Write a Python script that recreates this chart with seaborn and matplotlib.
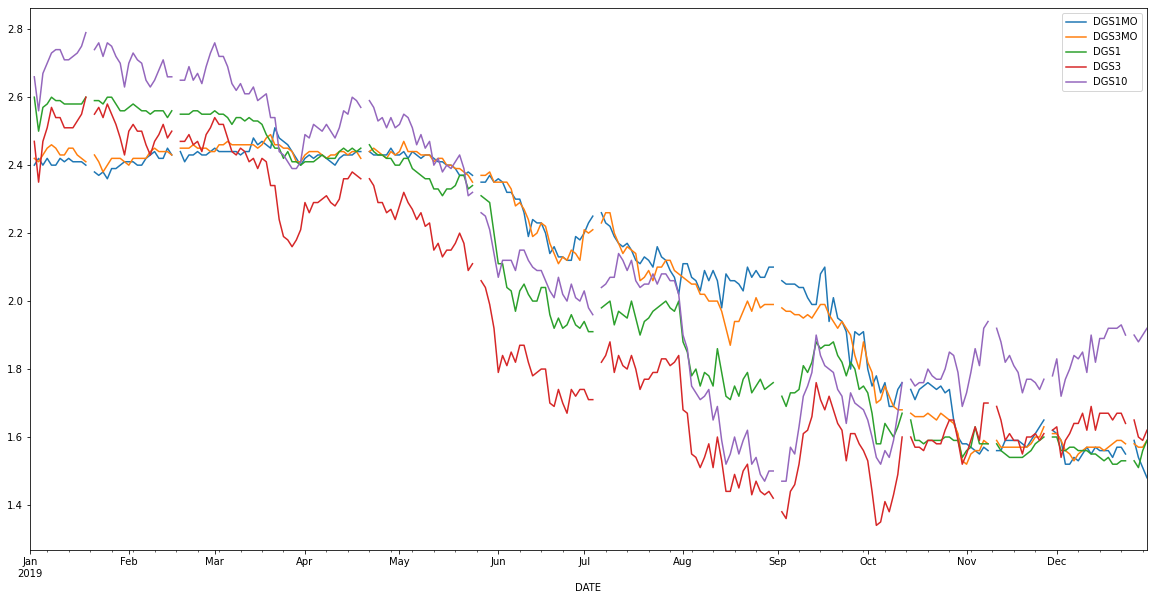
import numpy as np
import pandas as pd
import matplotlib
matplotlib.use("Agg")
import matplotlib.pyplot as plt
import seaborn as sns

nan = np.nan

# business days of 2019, holidays kept as missing values
dates = pd.bdate_range("2019-01-01", "2019-12-31", name="DATE")

dgs1mo = [
    nan, 2.40, 2.42, 2.40, 2.42, 2.40, 2.40, 2.42, 2.41, 2.42, 2.41, 2.41, 2.41, 2.40, nan, 2.38, 2.37, 2.38, 2.36, 2.39, 2.39, 2.40, 2.41,
    2.41, 2.41, 2.40, 2.40, 2.42, 2.43, 2.44, 2.42, 2.42, 2.45, 2.43, nan, 2.44, 2.41, 2.43, 2.43, 2.44, 2.43, 2.43, 2.44,
    2.45, 2.44, 2.44, 2.44, 2.44, 2.44, 2.43, 2.44, 2.44, 2.48, 2.46, 2.47, 2.46, 2.45, 2.51, 2.48, 2.47, 2.46, 2.44, 2.42, 2.40,
    2.42, 2.43, 2.42, 2.43, 2.43, 2.42, 2.41, 2.40, 2.42, 2.43, 2.43, 2.43, 2.44, 2.44, nan, 2.44, 2.43, 2.43, 2.43, 2.43, 2.45, 2.43,
    2.43, 2.44, 2.42, 2.44, 2.43, 2.42, 2.43, 2.43, 2.42, 2.41, 2.41, 2.40, 2.40, 2.39, 2.37, 2.37, 2.38, 2.37, nan, 2.35, 2.35, 2.37, 2.35,
    2.36, 2.35, 2.32, 2.32, 2.30, 2.30, 2.26, 2.19, 2.24, 2.23, 2.23, 2.20, 2.14, 2.16, 2.13, 2.13, 2.12, 2.12, 2.19, 2.18,
    2.20, 2.23, 2.25, nan, 2.26, 2.23, 2.22, 2.19, 2.17, 2.16, 2.17, 2.15, 2.12, 2.11, 2.13, 2.12, 2.10, 2.16, 2.13, 2.12, 2.09, 2.07, 2.02,
    2.11, 2.11, 2.07, 2.06, 2.03, 2.09, 2.06, 2.09, 2.06, 1.98, 2.08, 2.06, 2.06, 2.05, 2.03, 2.10, 2.07, 2.09, 2.07, 2.07, 2.10, 2.10,
    nan, 2.06, 2.05, 2.05, 2.05, 2.04, 2.04, 2.01, 1.99, 1.99, 2.08, 2.10, 1.94, 2.01, 1.95, 1.94, 1.91, 1.80, 1.91, 1.90, 1.91,
    1.80, 1.75, 1.78, 1.73, 1.76, 1.69, 1.69, 1.74, 1.76, nan, 1.74, 1.71, 1.74, 1.75, 1.76, 1.75, 1.74, 1.75, 1.73, 1.74, 1.65, 1.60, 1.58,
    1.58, 1.57, 1.56, 1.55, 1.57, 1.56, nan, 1.56, 1.56, 1.59, 1.59, 1.59, 1.59, 1.58, 1.57, 1.59, 1.61, 1.63, 1.65, nan, 1.62,
    1.61, 1.59, 1.52, 1.52, 1.54, 1.53, 1.55, 1.57, 1.55, 1.57, 1.56, 1.56, 1.56, 1.54, 1.57, 1.57, 1.55, nan, 1.59, 1.54, 1.51, 1.48,
]

dgs3mo = [
    nan, 2.42, 2.41, 2.43, 2.45, 2.46, 2.45, 2.43, 2.43, 2.45, 2.45, 2.43, 2.42, 2.41, nan, 2.43, 2.41, 2.38, 2.40, 2.42, 2.42, 2.42, 2.41,
    2.40, 2.42, 2.42, 2.42, 2.42, 2.44, 2.45, 2.44, 2.44, 2.44, 2.43, nan, 2.45, 2.45, 2.45, 2.46, 2.45, 2.45, 2.45, 2.44,
    2.44, 2.46, 2.46, 2.47, 2.46, 2.46, 2.46, 2.46, 2.46, 2.46, 2.45, 2.46, 2.48, 2.49, 2.46, 2.46, 2.45, 2.45, 2.44, 2.41, 2.41,
    2.43, 2.44, 2.44, 2.44, 2.43, 2.42, 2.43, 2.43, 2.44, 2.44, 2.43, 2.44, 2.44, 2.42, nan, 2.44, 2.45, 2.44, 2.43, 2.42, 2.44, 2.43,
    2.44, 2.47, 2.44, 2.44, 2.44, 2.43, 2.43, 2.43, 2.41, 2.42, 2.42, 2.40, 2.40, 2.39, 2.39, 2.38, 2.37, 2.35, nan, 2.37, 2.37, 2.38, 2.35,
    2.35, 2.35, 2.35, 2.33, 2.28, 2.29, 2.27, 2.24, 2.19, 2.20, 2.23, 2.22, 2.17, 2.14, 2.11, 2.13, 2.12, 2.15, 2.14, 2.12,
    2.21, 2.20, 2.21, nan, 2.23, 2.26, 2.26, 2.20, 2.17, 2.14, 2.16, 2.15, 2.14, 2.06, 2.07, 2.09, 2.06, 2.10, 2.10, 2.12, 2.12, 2.09, 2.08,
    2.07, 2.06, 2.05, 2.05, 2.02, 2.02, 2.00, 2.00, 2.00, 1.97, 1.92, 1.87, 1.94, 1.94, 1.97, 2.00, 1.97, 2.01, 1.98, 1.99, 1.99, 1.99,
    nan, 1.98, 1.97, 1.97, 1.96, 1.96, 1.95, 1.96, 1.95, 1.97, 1.99, 1.99, 1.96, 1.94, 1.92, 1.94, 1.92, 1.90, 1.84, 1.80, 1.88,
    1.82, 1.79, 1.70, 1.71, 1.75, 1.72, 1.69, 1.68, 1.68, nan, 1.67, 1.66, 1.66, 1.66, 1.67, 1.66, 1.65, 1.67, 1.66, 1.65, 1.64, 1.61, 1.53,
    1.52, 1.55, 1.56, 1.56, 1.59, 1.58, nan, 1.59, 1.57, 1.57, 1.57, 1.57, 1.57, 1.57, 1.57, 1.58, 1.60, 1.60, 1.63, nan, 1.61,
    1.61, 1.59, 1.56, 1.55, 1.53, 1.55, 1.56, 1.57, 1.57, 1.57, 1.57, 1.56, 1.57, 1.58, 1.59, 1.59, 1.58, nan, 1.58, 1.57, 1.57, 1.59,
]

dgs1 = [
    nan, 2.60, 2.50, 2.57, 2.58, 2.60, 2.59, 2.59, 2.58, 2.58, 2.58, 2.58, 2.58, 2.60, nan, 2.59, 2.59, 2.58, 2.60, 2.60, 2.58, 2.56, 2.56,
    2.57, 2.58, 2.57, 2.56, 2.56, 2.55, 2.56, 2.56, 2.56, 2.54, 2.56, nan, 2.55, 2.55, 2.55, 2.56, 2.56, 2.55, 2.55, 2.55,
    2.56, 2.55, 2.55, 2.54, 2.52, 2.54, 2.54, 2.53, 2.54, 2.53, 2.53, 2.52, 2.49, 2.47, 2.45, 2.45, 2.42, 2.44, 2.41, 2.41, 2.40,
    2.41, 2.41, 2.41, 2.42, 2.43, 2.42, 2.42, 2.42, 2.44, 2.45, 2.44, 2.45, 2.44, 2.45, nan, 2.46, 2.44, 2.43, 2.43, 2.42, 2.42, 2.40,
    2.40, 2.42, 2.42, 2.39, 2.38, 2.37, 2.36, 2.36, 2.33, 2.33, 2.31, 2.33, 2.33, 2.34, 2.37, 2.37, 2.33, 2.34, nan, 2.31, 2.30, 2.29, 2.20,
    2.11, 2.11, 2.04, 2.03, 1.97, 2.03, 2.05, 2.02, 2.00, 2.00, 2.04, 2.04, 1.96, 1.92, 1.95, 1.92, 1.93, 1.96, 1.93, 1.92,
    1.94, 1.91, 1.91, nan, 1.98, 1.99, 2.00, 1.93, 1.97, 1.96, 1.95, 2.00, 1.95, 1.90, 1.94, 1.95, 1.97, 1.98, 1.99, 2.00, 1.98, 1.97, 2.00,
    1.88, 1.85, 1.78, 1.80, 1.75, 1.79, 1.78, 1.75, 1.86, 1.79, 1.72, 1.71, 1.75, 1.72, 1.77, 1.79, 1.73, 1.75, 1.77, 1.74, 1.75, 1.76,
    nan, 1.72, 1.69, 1.73, 1.73, 1.74, 1.81, 1.79, 1.82, 1.88, 1.86, 1.87, 1.87, 1.88, 1.84, 1.82, 1.78, 1.82, 1.80, 1.74, 1.75,
    1.73, 1.67, 1.58, 1.58, 1.64, 1.62, 1.60, 1.63, 1.67, nan, 1.65, 1.59, 1.59, 1.58, 1.59, 1.59, 1.59, 1.59, 1.60, 1.60, 1.59, 1.59, 1.54,
    1.56, 1.57, 1.63, 1.58, 1.58, 1.58, nan, 1.58, 1.56, 1.55, 1.54, 1.54, 1.54, 1.54, 1.55, 1.56, 1.58, 1.59, 1.60, nan, 1.60,
    1.60, 1.56, 1.56, 1.57, 1.57, 1.56, 1.56, 1.56, 1.55, 1.55, 1.54, 1.53, 1.54, 1.52, 1.52, 1.53, 1.53, nan, 1.53, 1.51, 1.56, 1.59,
]

dgs3 = [
    nan, 2.47, 2.35, 2.47, 2.51, 2.57, 2.54, 2.54, 2.51, 2.51, 2.51, 2.53, 2.55, 2.60, nan, 2.55, 2.57, 2.54, 2.58, 2.55, 2.52, 2.48, 2.43,
    2.50, 2.52, 2.50, 2.50, 2.46, 2.43, 2.47, 2.49, 2.52, 2.48, 2.50, nan, 2.47, 2.47, 2.49, 2.46, 2.47, 2.44, 2.49, 2.51,
    2.54, 2.52, 2.52, 2.48, 2.44, 2.43, 2.45, 2.44, 2.41, 2.42, 2.39, 2.42, 2.41, 2.34, 2.34, 2.24, 2.19, 2.18, 2.16, 2.18, 2.21,
    2.29, 2.26, 2.29, 2.29, 2.30, 2.31, 2.29, 2.28, 2.30, 2.36, 2.36, 2.38, 2.37, 2.36, nan, 2.36, 2.34, 2.29, 2.29, 2.26, 2.27, 2.24,
    2.28, 2.32, 2.29, 2.27, 2.24, 2.26, 2.22, 2.23, 2.15, 2.17, 2.13, 2.15, 2.15, 2.17, 2.20, 2.17, 2.09, 2.11, nan, 2.06, 2.04, 1.99, 1.92,
    1.79, 1.84, 1.81, 1.85, 1.82, 1.87, 1.87, 1.82, 1.78, 1.79, 1.80, 1.80, 1.70, 1.69, 1.74, 1.70, 1.67, 1.74, 1.72, 1.74,
    1.74, 1.71, 1.71, nan, 1.82, 1.84, 1.88, 1.79, 1.84, 1.81, 1.80, 1.84, 1.80, 1.74, 1.77, 1.77, 1.79, 1.79, 1.83, 1.83, 1.81, 1.82, 1.84,
    1.68, 1.67, 1.55, 1.54, 1.51, 1.54, 1.58, 1.51, 1.60, 1.53, 1.44, 1.44, 1.49, 1.45, 1.50, 1.52, 1.43, 1.47, 1.44, 1.43, 1.44, 1.42,
    nan, 1.38, 1.36, 1.44, 1.46, 1.52, 1.61, 1.62, 1.66, 1.76, 1.71, 1.68, 1.72, 1.68, 1.64, 1.62, 1.53, 1.61, 1.61, 1.58, 1.56,
    1.53, 1.44, 1.34, 1.35, 1.41, 1.38, 1.43, 1.49, 1.60, nan, 1.60, 1.57, 1.57, 1.56, 1.59, 1.59, 1.58, 1.58, 1.62, 1.65, 1.65, 1.59, 1.52,
    1.55, 1.59, 1.63, 1.59, 1.70, 1.70, nan, 1.69, 1.65, 1.59, 1.61, 1.59, 1.59, 1.55, 1.60, 1.60, 1.61, 1.59, 1.61, nan, 1.62,
    1.63, 1.54, 1.59, 1.61, 1.64, 1.64, 1.67, 1.62, 1.69, 1.62, 1.67, 1.67, 1.67, 1.65, 1.67, 1.67, 1.64, nan, 1.65, 1.60, 1.59, 1.62,
]

dgs10 = [
    nan, 2.66, 2.56, 2.67, 2.70, 2.73, 2.74, 2.74, 2.71, 2.71, 2.72, 2.73, 2.75, 2.79, nan, 2.74, 2.76, 2.72, 2.76, 2.75, 2.72, 2.70, 2.63,
    2.70, 2.73, 2.71, 2.70, 2.65, 2.63, 2.65, 2.68, 2.71, 2.66, 2.66, nan, 2.65, 2.65, 2.69, 2.65, 2.67, 2.64, 2.69, 2.73,
    2.76, 2.72, 2.72, 2.69, 2.64, 2.62, 2.64, 2.61, 2.61, 2.63, 2.59, 2.60, 2.61, 2.54, 2.54, 2.44, 2.43, 2.41, 2.39, 2.39, 2.41,
    2.49, 2.48, 2.52, 2.51, 2.50, 2.52, 2.50, 2.48, 2.51, 2.56, 2.55, 2.60, 2.59, 2.57, nan, 2.59, 2.57, 2.53, 2.54, 2.51, 2.54, 2.51,
    2.52, 2.55, 2.54, 2.51, 2.46, 2.49, 2.45, 2.47, 2.40, 2.42, 2.38, 2.40, 2.39, 2.41, 2.43, 2.39, 2.31, 2.32, nan, 2.26, 2.25, 2.21, 2.14,
    2.07, 2.12, 2.12, 2.12, 2.09, 2.15, 2.15, 2.12, 2.10, 2.09, 2.09, 2.06, 2.03, 2.01, 2.07, 2.02, 2.00, 2.05, 2.01, 2.00,
    2.03, 1.98, 1.96, nan, 2.04, 2.05, 2.07, 2.07, 2.14, 2.12, 2.09, 2.12, 2.06, 2.04, 2.05, 2.05, 2.08, 2.05, 2.08, 2.08, 2.06, 2.06, 2.02,
    1.90, 1.86, 1.75, 1.73, 1.71, 1.72, 1.74, 1.65, 1.69, 1.59, 1.52, 1.55, 1.60, 1.55, 1.59, 1.62, 1.52, 1.54, 1.49, 1.47, 1.50, 1.50,
    nan, 1.47, 1.47, 1.57, 1.55, 1.63, 1.72, 1.75, 1.79, 1.90, 1.84, 1.81, 1.80, 1.79, 1.74, 1.72, 1.64, 1.73, 1.70, 1.69, 1.68,
    1.65, 1.60, 1.54, 1.52, 1.56, 1.54, 1.59, 1.67, 1.76, nan, 1.77, 1.75, 1.76, 1.76, 1.80, 1.78, 1.77, 1.77, 1.80, 1.85, 1.84, 1.79, 1.69,
    1.73, 1.79, 1.86, 1.81, 1.92, 1.94, nan, 1.92, 1.88, 1.82, 1.84, 1.81, 1.79, 1.73, 1.77, 1.77, 1.76, 1.74, 1.77, nan, 1.78,
    1.83, 1.72, 1.77, 1.80, 1.84, 1.83, 1.85, 1.79, 1.90, 1.82, 1.89, 1.89, 1.92, 1.92, 1.92, 1.93, 1.90, nan, 1.90, 1.88, 1.90, 1.92,
]

series_names = ["DGS1MO", "DGS3MO", "DGS1", "DGS3", "DGS10"]
colors = sns.color_palette("tab10", 5)

df = pd.DataFrame(
    {"DGS1MO": dgs1mo, "DGS3MO": dgs3mo, "DGS1": dgs1, "DGS3": dgs3, "DGS10": dgs10},
    index=dates,
)

# long form, one unit per unbroken run so holidays leave gaps
pos = np.arange(len(df))
parts = []
for name in series_names:
    s = df[name]
    run = s.isna().cumsum()
    part = pd.DataFrame({"pos": pos, "value": s.values, "series": name,
                         "unit": name + "_" + run.astype(str).values})
    parts.append(part.dropna(subset=["value"]))
long = pd.concat(parts, ignore_index=True)

fig = plt.figure(figsize=(1153 / 72, 600 / 72), dpi=72)
ax = fig.add_axes([30 / 1153, 50 / 600, 1117 / 1153, 542 / 600])

sns.lineplot(
    data=long, x="pos", y="value", hue="series", hue_order=series_names,
    units="unit", estimator=None, sort=False,
    palette=dict(zip(series_names, colors)), linewidth=1.5, ax=ax,
)

# pandas-like period axis: month starts major, Mondays minor
months = dates.month
month_start = np.r_[True, months[1:] != months[:-1]]
week_start = np.r_[False, dates.weekday[1:] == 0] & ~month_start
labels = [d.strftime("%b") for d in dates[month_start]]
labels[0] = dates[0].strftime("%b\n%Y")
ax.set_xticks(pos[month_start])
ax.set_xticklabels(labels)
ax.set_xticks(pos[week_start], minor=True)
ax.set_xlim(pos[0], pos[-1])

ax.set_xlabel("DATE")
ax.set_ylabel("")
sns.move_legend(ax, "upper right", title=None)

fig.savefig("out.png", dpi=72)
